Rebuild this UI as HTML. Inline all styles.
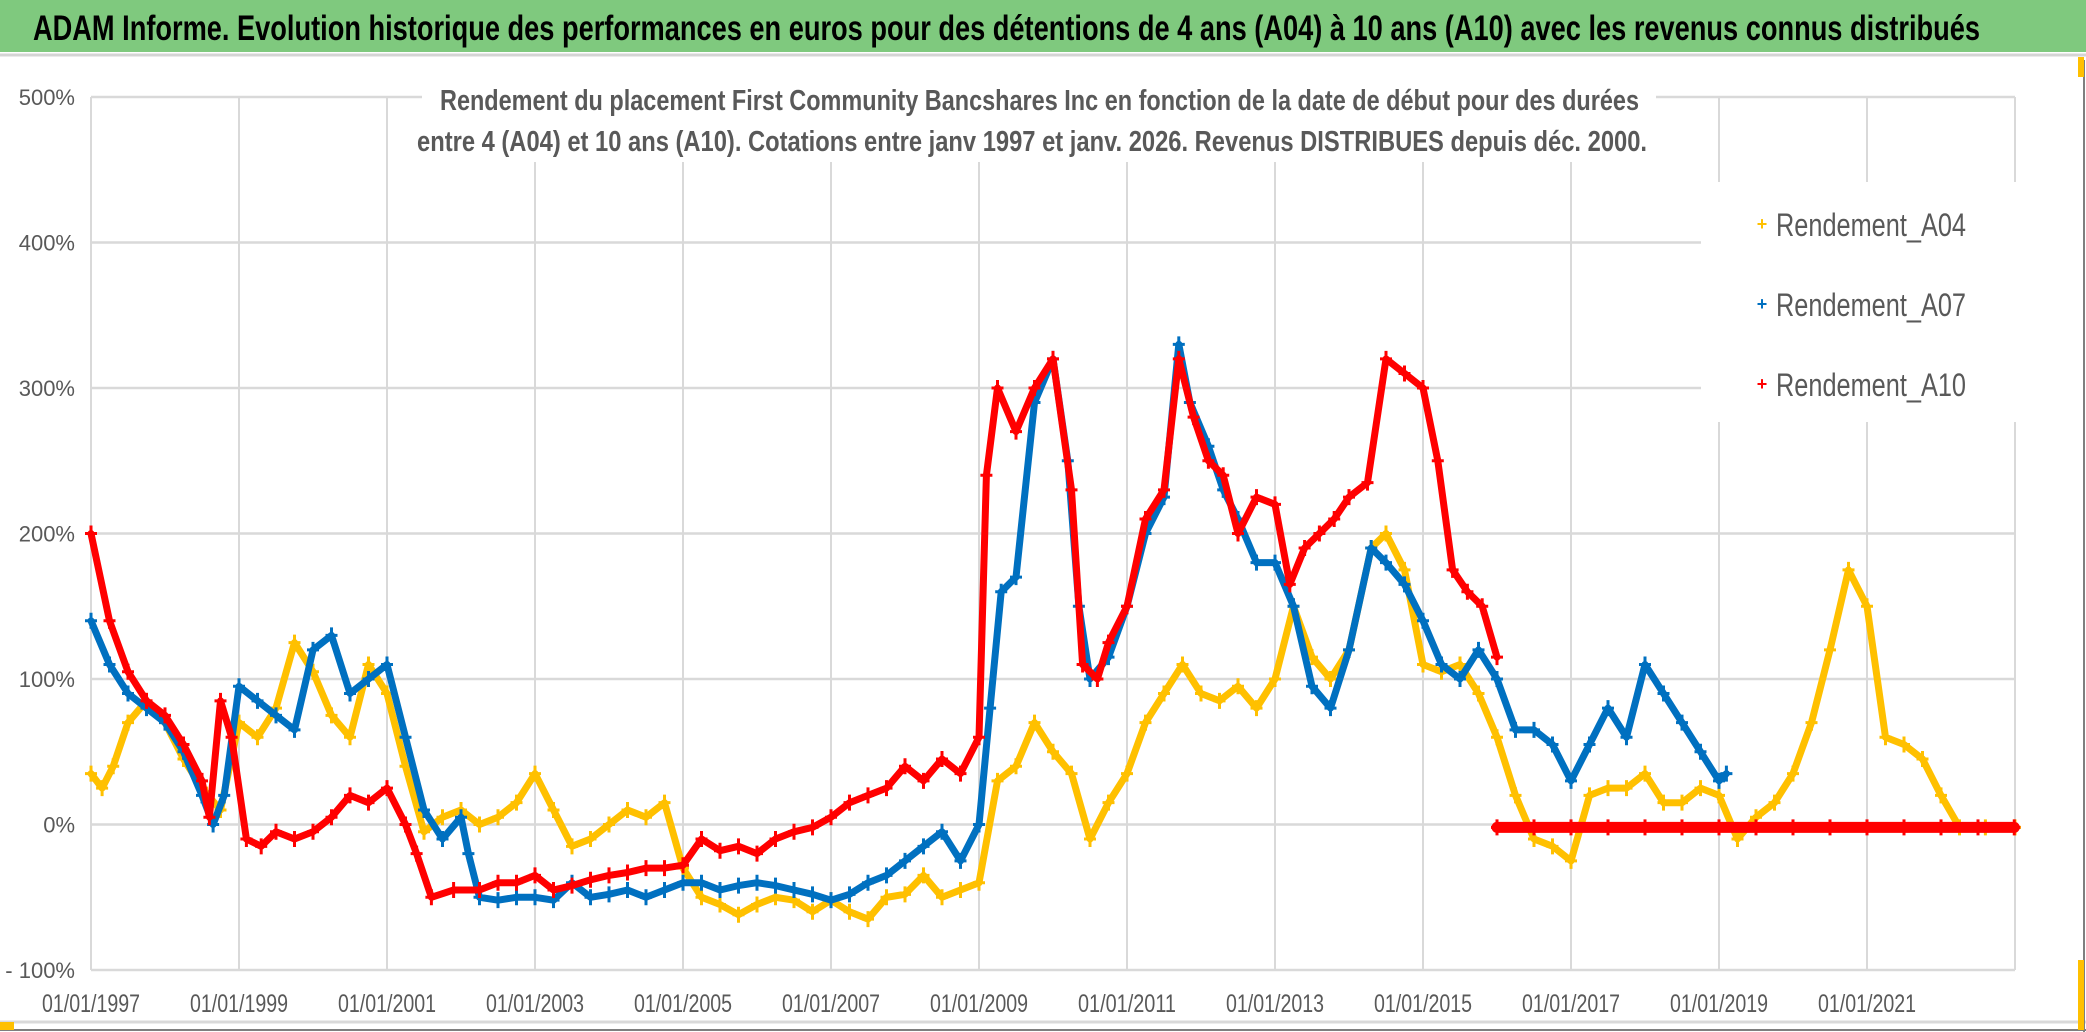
<!DOCTYPE html>
<html><head><meta charset="utf-8"><style>
html,body{margin:0;padding:0;background:#fff;}
svg{display:block;font-family:"Liberation Sans",sans-serif;}
</style></head><body>
<svg id="chart" width="2086" height="1032" viewBox="0 0 2086 1032" xmlns="http://www.w3.org/2000/svg">
<rect x="0" y="0" width="2086" height="1032" fill="#ffffff"/>
<rect x="0" y="0" width="2086" height="52" fill="#7fc97e"/>
<line x1="0" y1="55" x2="2086" y2="55" stroke="#d4d4d4" stroke-width="3"/>
<text x="33" y="40" font-size="35" font-weight="bold" fill="#000" textLength="1947" lengthAdjust="spacingAndGlyphs">ADAM Informe. Evolution historique des performances en euros pour des détentions de 4 ans (A04) à 10 ans (A10) avec les revenus connus distribués</text>
<g id="grid"></g>
<g id="axes"></g>
<g id="plot"></g>
<rect x="422" y="72" width="1234" height="90" fill="#fff"/>
<text x="440" y="110" font-size="29" font-weight="bold" fill="#595959" textLength="1199" lengthAdjust="spacingAndGlyphs">Rendement du placement First Community Bancshares Inc en fonction de la date de début pour des durées</text>
<text x="417" y="151" font-size="29" font-weight="bold" fill="#595959" textLength="1230" lengthAdjust="spacingAndGlyphs">entre 4 (A04) et 10 ans (A10). Cotations entre janv 1997 et janv. 2026. Revenus DISTRIBUES depuis déc. 2000.</text>
<g>
<rect x="1701" y="182" width="316" height="240" fill="#fff"/>
<g><text x="1762" y="230" font-size="18" fill="#ffc000" text-anchor="middle" font-weight="bold">+</text><text x="1776" y="236" font-size="32" fill="#595959" textLength="190" lengthAdjust="spacingAndGlyphs">Rendement_A04</text></g>
<g><text x="1762" y="310" font-size="18" fill="#0070c0" text-anchor="middle" font-weight="bold">+</text><text x="1776" y="316" font-size="32" fill="#595959" textLength="190" lengthAdjust="spacingAndGlyphs">Rendement_A07</text></g>
<g><text x="1762" y="390" font-size="18" fill="#ff0000" text-anchor="middle" font-weight="bold">+</text><text x="1776" y="396" font-size="32" fill="#595959" textLength="190" lengthAdjust="spacingAndGlyphs">Rendement_A10</text></g>
</g>
<line x1="0" y1="1022" x2="2086" y2="1022" stroke="#d9d9d9" stroke-width="3"/>
<line x1="0" y1="1030" x2="2086" y2="1030" stroke="#7f7f7f" stroke-width="2"/>
<line x1="2084" y1="60" x2="2084" y2="1032" stroke="#7f7f7f" stroke-width="2"/>
<rect x="0" y="1022" width="14" height="8" fill="#ffc000"/>
<rect x="2078" y="960" width="6" height="70" fill="#ffc000"/>
<rect x="2078" y="57" width="6" height="20" fill="#ffc000"/>
</svg>
<script>
const yTicks=[500,400,300,200,100,0,-100];
const yTickLabels=["500%","400%","300%","200%","100%","0%","- 100%"];
const xTicks=[1997,1999,2001,2003,2005,2007,2009,2011,2013,2015,2017,2019,2021];
const xTickLabels=["01/01/1997","01/01/1999","01/01/2001","01/01/2003","01/01/2005","01/01/2007","01/01/2009","01/01/2011","01/01/2013","01/01/2015","01/01/2017","01/01/2019","01/01/2021"];

const a04Dates=[1997.0,1997.15,1997.3,1997.5,1997.75,1998.0,1998.25,1998.5,1998.75,1999.0,1999.25,1999.5,1999.75,2000.0,2000.25,2000.5,2000.75,2001.0,2001.25,2001.5,2001.75,2002.0,2002.25,2002.5,2002.75,2003.0,2003.25,2003.5,2003.75,2004.0,2004.25,2004.5,2004.75,2005.0,2005.25,2005.5,2005.75,2006.0,2006.25,2006.5,2006.75,2007.0,2007.25,2007.5,2007.75,2008.0,2008.25,2008.5,2008.75,2009.0,2009.25,2009.5,2009.75,2010.0,2010.25,2010.5,2010.75,2011.0,2011.25,2011.5,2011.75,2012.0,2012.25,2012.5,2012.75,2013.0,2013.25,2013.5,2013.75,2014.0,2014.3,2014.5,2014.75,2015.0,2015.25,2015.5,2015.75,2016.0,2016.25,2016.5,2016.75,2017.0,2017.25,2017.5,2017.75,2018.0,2018.25,2018.5,2018.75,2019.0,2019.25,2019.5,2019.75,2020.0,2020.25,2020.5,2020.75,2021.0,2021.25,2021.5,2021.75,2022.0,2022.25,2022.6,2023.0];
const a04Vals=[35,25,40,70,85,70,45,25,10,70,60,80,125,105,75,60,110,90,40,-5,5,10,0,5,15,35,10,-15,-10,0,10,5,15,-30,-50,-55,-62,-55,-50,-52,-60,-52,-60,-65,-50,-48,-35,-50,-45,-40,30,40,70,50,35,-10,15,35,70,90,110,90,85,95,80,100,150,115,100,120,190,200,175,110,105,110,90,60,20,-10,-15,-25,20,25,25,35,15,15,25,20,-10,5,15,35,70,120,175,150,60,55,45,20,-2,-2,-2];

const a07Dates=[1997.0,1997.25,1997.5,1997.75,1998.0,1998.25,1998.5,1998.65,1998.8,1999.0,1999.25,1999.5,1999.75,2000.0,2000.25,2000.5,2000.75,2001.0,2001.25,2001.5,2001.75,2002.0,2002.1,2002.25,2002.5,2002.75,2003.0,2003.25,2003.5,2003.75,2004.0,2004.25,2004.5,2004.75,2005.0,2005.25,2005.5,2005.75,2006.0,2006.25,2006.5,2006.75,2007.0,2007.25,2007.5,2007.75,2008.0,2008.25,2008.5,2008.75,2009.0,2009.15,2009.3,2009.5,2009.75,2010.0,2010.2,2010.35,2010.5,2010.75,2011.0,2011.25,2011.5,2011.7,2011.85,2012.1,2012.3,2012.5,2012.75,2013.0,2013.25,2013.5,2013.75,2014.0,2014.3,2014.5,2014.75,2015.0,2015.25,2015.5,2015.75,2016.0,2016.25,2016.5,2016.75,2017.0,2017.25,2017.5,2017.75,2018.0,2018.25,2018.5,2018.75,2019.0,2019.1];
const a07Vals=[140,110,90,80,70,50,20,0,20,95,85,75,65,120,130,90,100,110,60,10,-10,5,-20,-50,-52,-50,-50,-52,-40,-50,-48,-45,-50,-45,-40,-40,-45,-42,-40,-42,-45,-48,-52,-48,-40,-35,-25,-15,-5,-25,0,80,160,170,290,320,250,150,100,115,150,200,225,330,290,260,230,210,180,180,150,95,80,120,190,180,165,140,110,100,120,100,65,65,55,30,55,80,60,110,90,70,50,30,35];

const a10Dates=[1997.0,1997.25,1997.5,1997.75,1998.0,1998.25,1998.5,1998.6,1998.75,1998.9,1999.1,1999.3,1999.5,1999.75,2000.0,2000.25,2000.5,2000.75,2001.0,2001.25,2001.4,2001.6,2001.9,2002.25,2002.5,2002.75,2003.0,2003.25,2003.5,2003.75,2004.0,2004.25,2004.5,2004.75,2005.0,2005.25,2005.5,2005.75,2006.0,2006.25,2006.5,2006.75,2007.0,2007.25,2007.5,2007.75,2008.0,2008.25,2008.5,2008.75,2009.0,2009.1,2009.25,2009.5,2009.75,2010.0,2010.25,2010.4,2010.6,2010.75,2011.0,2011.25,2011.5,2011.7,2011.9,2012.1,2012.3,2012.5,2012.75,2013.0,2013.2,2013.4,2013.6,2013.8,2014.0,2014.25,2014.5,2014.75,2015.0,2015.2,2015.4,2015.6,2015.8,2016.0];
const a10Vals=[200,140,105,85,75,55,30,5,85,60,-10,-15,-5,-10,-5,5,20,15,25,0,-20,-50,-45,-45,-40,-40,-35,-45,-42,-38,-35,-33,-30,-30,-28,-10,-18,-15,-20,-10,-5,-2,5,15,20,25,40,30,45,35,60,240,300,270,300,320,230,110,100,125,150,210,230,320,280,250,240,200,225,220,165,190,200,210,225,235,320,310,300,250,175,160,150,115];
const a10FlatDates=[2016.0,2016.5,2017.0,2017.5,2018.0,2018.5,2019.0,2019.5,2020.0,2020.5,2021.0,2021.5,2022.0,2022.5,2022.99];
const a10FlatVals=[-2,-2,-2,-2,-2,-2,-2,-2,-2,-2,-2,-2,-2,-2,-2];

const NS="http://www.w3.org/2000/svg";
const X0=91, PX_PER_YEAR=74, XMAX=2015;
const Y0=824.5, PX_PER_PCT=1.455;
function xScale(yr){return X0+(yr-1997)*PX_PER_YEAR;}
function yScale(v){return Y0-v*PX_PER_PCT;}
function mk(tag,attrs,parent){const e=document.createElementNS(NS,tag);for(const k in attrs)e.setAttribute(k,attrs[k]);parent.appendChild(e);return e;}

const grid=document.getElementById('grid');
const axes=document.getElementById('axes');
const plot=document.getElementById('plot');

yTicks.forEach((t,i)=>{
  const l=mk('line',{x1:X0,x2:XMAX,y1:yScale(t),y2:yScale(t),stroke:'#d9d9d9','stroke-width':2.5},grid);
  
  
  const tx=mk('text',{x:75,y:yScale(t)+8,'font-size':22,fill:'#595959','text-anchor':'end'},axes);
  tx.textContent=yTickLabels[i];
  
  
});
xTicks.forEach((t,i)=>{
  const l=mk('line',{x1:xScale(t),x2:xScale(t),y1:yScale(500),y2:yScale(-100),stroke:'#d9d9d9','stroke-width':2},grid);
  
  
  const tx=mk('text',{x:xScale(t),y:1012,'font-size':25,fill:'#595959','text-anchor':'middle',textLength:98,lengthAdjust:'spacingAndGlyphs'},axes);
  tx.textContent=xTickLabels[i];
  
  
});
{const l=mk('line',{x1:XMAX,x2:XMAX,y1:yScale(500),y2:yScale(-100),stroke:'#d9d9d9','stroke-width':2},grid);

}

function drawSeries(dates,vals,color,name,lineW){
  const g=mk('g',{},plot);
  
  
  const pts=dates.map((d,i)=>xScale(d).toFixed(1)+','+yScale(vals[i]).toFixed(1)).join(' ');
  const pl=mk('polyline',{points:pts,fill:'none',stroke:color,'stroke-width':lineW,'stroke-linejoin':'round','stroke-linecap':'round'},g);
  
  
  dates.forEach((d,i)=>{
    const x=xScale(d),y=yScale(vals[i]);
    const p=mk('path',{d:`M${x-6},${y}H${x+6}M${x},${y-8}V${y+8}`,stroke:color,'stroke-width':3,fill:'none'},g);
    
    
  });
}
drawSeries(a04Dates,a04Vals,'#ffc000','series-a04',7);
drawSeries(a07Dates,a07Vals,'#0070c0','series-a07',7);
drawSeries(a10Dates,a10Vals,'#ff0000','series-a10',7);
drawSeries(a10FlatDates,a10FlatVals,'#ff0000','series-a10-flat',11);
</script>
</body></html>
